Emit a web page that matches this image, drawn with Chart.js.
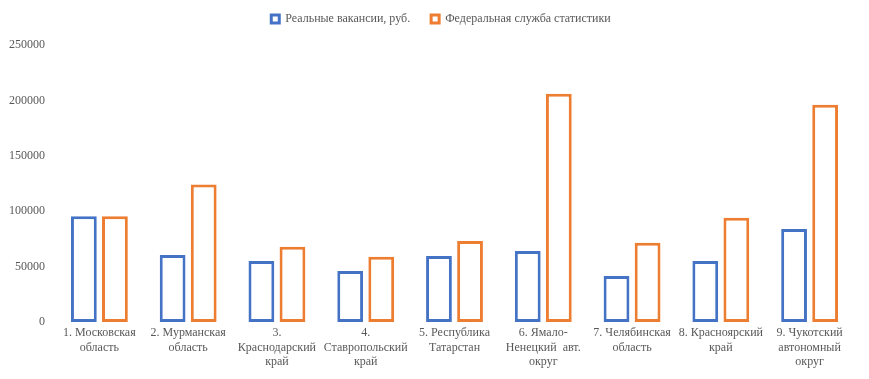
<!DOCTYPE html>
<html>
<head>
<meta charset="utf-8">
<script src="https://cdn.jsdelivr.net/npm/chart.js@4"></script>
<style>
  html, body { margin: 0; padding: 0; background: #fff; }
  #wrap { width: 869px; height: 379px; }
</style>
</head>
<body>
<div id="wrap"><canvas id="chart" width="869" height="379"></canvas></div>
<script>
// Регионы (подписи по строкам)
const regions = [
  ['1. Московская', 'область'],
  ['2. Мурманская', 'область'],
  ['3.', 'Краснодарский', 'край'],
  ['4.', 'Ставропольский', 'край'],
  ['5. Республика', 'Татарстан'],
  ['6. Ямало-', 'Ненецкий  авт.', 'округ'],
  ['7. Челябинская', 'область'],
  ['8. Красноярский', 'край'],
  ['9. Чукотский', 'автономный', 'округ']
];

// Реальные вакансии, руб.
const realVacancies = [95500, 60500, 55000, 46000, 59500, 64000, 41500, 55000, 84000];
// Федеральная служба статистики
const rosstat = [95500, 124000, 68000, 59000, 73000, 206000, 71500, 94000, 196000];

const yTicks = [0, 50000, 100000, 150000, 200000, 250000];

const gray = '#595959';
const serif = { family: 'Liberation Serif', size: 12 };

// отступ под легендой и сдвиг легенды вправо
const legendGap = {
  id: 'legendGap',
  beforeInit(chart) {
    const legend = chart.legend;
    const fit = legend.fit;
    legend.fit = function () {
      fit.call(this);
      this.height += 10;
    };
    const draw = legend.draw;
    legend.draw = function () {
      const c = this.ctx;
      c.save();
      c.translate(14, 0);
      draw.call(this);
      c.restore();
    };
  }
};

const ctx = document.getElementById('chart').getContext('2d');
new Chart(ctx, {
  type: 'bar',
  data: {
    labels: regions,
    datasets: [
      {
        label: 'Реальные вакансии, руб.',
        data: realVacancies,
        backgroundColor: '#ffffff',
        borderColor: '#4472C4',
        borderWidth: 3,
        borderSkipped: false,
        barPercentage: 0.83,
        categoryPercentage: 0.7
      },
      {
        label: 'Федеральная служба статистики',
        data: rosstat,
        backgroundColor: '#ffffff',
        borderColor: '#ED7D31',
        borderWidth: 3,
        borderSkipped: false,
        barPercentage: 0.83,
        categoryPercentage: 0.7
      }
    ]
  },
  options: {
    responsive: false,
    animation: false,
    font: serif,
    layout: { padding: { left: 0, right: 15, top: -8, bottom: 3 } },
    plugins: {
      legend: {
        position: 'top',
        labels: {
          boxWidth: 8,
          boxHeight: 8,
          padding: 21,
          color: gray,
          font: serif
        }
      },
      tooltip: { enabled: false }
    },
    scales: {
      x: {
        grid: { display: false, drawTicks: false },
        border: { display: false },
        ticks: { maxRotation: 0, autoSkip: false, padding: 4, color: gray, font: serif },
        afterFit: s => { s.height = 54; }
      },
      y: {
        min: 0,
        max: 250000,
        afterBuildTicks: s => { s.ticks = yTicks.map(v => ({ value: v })); },
        grid: { display: false, drawTicks: false },
        border: { display: false },
        ticks: { padding: 10, color: gray, font: serif, callback: v => String(v) },
        afterFit: s => { s.width = 55; }
      }
    }
  },
  plugins: [legendGap]
});
</script>
</body>
</html>
